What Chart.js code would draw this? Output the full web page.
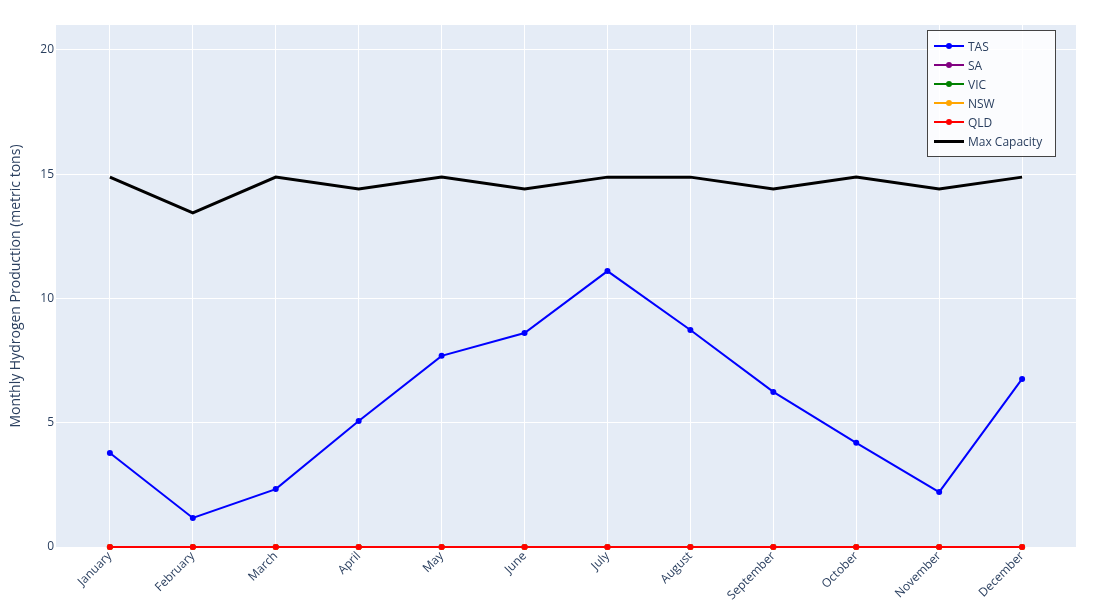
<!DOCTYPE html>
<html>
<head>
<meta charset="utf-8">
<script src="https://cdn.jsdelivr.net/npm/chart.js@4"></script>
<style>
  html, body { margin: 0; padding: 0; background: #fff; }
  #wrap { position: relative; width: 1116px; height: 613px; }
  #legend {
    position: absolute; left: 927px; top: 30px; width: 129px;
    box-sizing: border-box; padding: 6px 0 5px 0;
    background: rgba(255,255,255,0.85); border: 1px solid #444;
    font-family: "Open Sans", sans-serif; font-size: 12px; color: #2a3f5f;
  }
  .item { position: relative; height: 19px; line-height: 19px; padding-left: 40px; white-space: nowrap; }
  .item .ln { position: absolute; left: 6px; top: 9px; width: 30px; }
  .item .dot { position: absolute; left: 18px; top: 6px; width: 6px; height: 6px; border-radius: 50%; }
</style>
</head>
<body>
<div id="wrap">
  <canvas id="c" width="1116" height="613"></canvas>
  <div id="legend"></div>
</div>
<script>
const months = ['January', 'February', 'March', 'April', 'May', 'June', 'July',
  'August', 'September', 'October', 'November', 'December'];
const tas = [3.78, 1.17, 2.33, 5.07, 7.69, 8.61, 11.1, 8.73, 6.24, 4.19, 2.21, 6.76];
const sa = [0, 0, 0, 0, 0, 0, 0, 0, 0, 0, 0, 0];
const vic = [0, 0, 0, 0, 0, 0, 0, 0, 0, 0, 0, 0];
const nsw = [0, 0, 0, 0, 0, 0, 0, 0, 0, 0, 0, 0];
const qld = [0, 0, 0, 0, 0, 0, 0, 0, 0, 0, 0, 0];
const maxCapacity = [14.88, 13.44, 14.88, 14.4, 14.88, 14.4, 14.88, 14.88, 14.4, 14.88, 14.4, 14.88];
const yTicks = [0, 5, 10, 15, 20];

const pts = arr => arr.map((v, i) => ({ x: i, y: v }));
const series = [
  { label: 'TAS', data: tas, color: 'blue', width: 2, markers: true },
  { label: 'SA', data: sa, color: 'purple', width: 2, markers: true },
  { label: 'VIC', data: vic, color: 'green', width: 2, markers: true },
  { label: 'NSW', data: nsw, color: 'orange', width: 2, markers: true },
  { label: 'QLD', data: qld, color: 'red', width: 2, markers: true },
  { label: 'Max Capacity', data: maxCapacity, color: 'black', width: 3, markers: false }
];

const font = { family: '"Open Sans", sans-serif', size: 12 };
const textColor = '#2a3f5f';

const bgPlugin = {
  id: 'bg',
  beforeDraw(chart) {
    const { ctx, chartArea: a } = chart;
    ctx.save();
    ctx.fillStyle = '#E5ECF6';
    ctx.fillRect(a.left, a.top, a.right - a.left, a.bottom - a.top);
    ctx.restore();
  }
};

new Chart(document.getElementById('c'), {
  type: 'line',
  data: {
    datasets: series.map((s, i) => ({
      label: s.label,
      data: pts(s.data),
      order: series.length - i, // later traces on top, like the original
      borderColor: s.color,
      backgroundColor: s.color,
      borderWidth: s.width,
      pointRadius: s.markers ? 3 : 0,
      pointHoverRadius: s.markers ? 3 : 0,
      pointBorderWidth: 0,
      tension: 0,
      clip: false
    }))
  },
  options: {
    responsive: false,
    animation: false,
    layout: { padding: { left: 0, right: 40, top: 25, bottom: 0 } },
    plugins: { legend: { display: false }, tooltip: { enabled: false } },
    scales: {
      x: {
        type: 'linear',
        min: -0.65,
        max: 11.65,
        afterBuildTicks: s => { s.ticks = months.map((m, i) => ({ value: i })); },
        afterFit: s => { s.height = 66; },
        grid: { color: '#fff', lineWidth: 1, drawTicks: false },
        border: { display: false },
        ticks: {
          font, color: textColor, padding: 2,
          maxRotation: 45, minRotation: 45,
          callback: v => months[v]
        }
      },
      y: {
        min: 0,
        max: 21,
        afterBuildTicks: s => { s.ticks = yTicks.map(v => ({ value: v })); },
        afterFit: s => { s.width = 56; },
        grid: { color: '#fff', lineWidth: 1, drawTicks: false },
        border: { display: false },
        ticks: { font, color: textColor, padding: 2 },
        title: {
          display: true,
          text: 'Monthly Hydrogen Production (metric tons)',
          font: { family: '"Open Sans", sans-serif', size: 14 },
          color: textColor,
          padding: { top: 8, bottom: 0 }
        }
      }
    }
  },
  plugins: [bgPlugin]
});

const legend = document.getElementById('legend');
series.forEach(s => {
  const row = document.createElement('div');
  row.className = 'item';
  row.innerHTML = `<span class="ln" style="border-top:${s.width}px solid ${s.color};margin-top:${-Math.floor(s.width / 2)}px"></span>` +
    (s.markers ? `<span class="dot" style="background:${s.color}"></span>` : '') + s.label;
  legend.appendChild(row);
});
</script>
</body>
</html>
